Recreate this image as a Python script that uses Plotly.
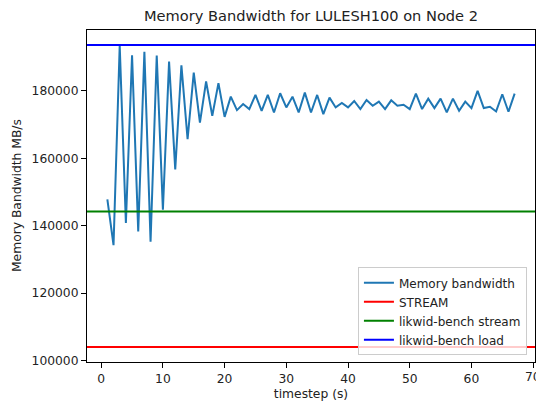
import plotly.graph_objects as go

timesteps = list(range(1, 68))
bandwidth = [
    147800, 134200, 193500, 140800, 190600, 138300, 191600, 135200, 190500, 144700,
    188700, 156700, 187600, 165700, 185400, 170600, 182800, 172600, 182300, 172300,
    178300, 174300, 176100, 174600, 178800, 174100, 178800, 173600, 179300, 175100,
    178300, 173600, 179500, 173600, 178800, 173100, 178000, 175100, 176400, 175100,
    177000, 174600, 177300, 175600, 176800, 174600, 177200, 175600, 175900, 174600,
    179200, 174600, 177700, 174900, 177700, 173600, 177700, 174100, 176800, 174900,
    180000, 174900, 175300, 173900, 179000, 173800, 179200,
]
ref_names = ["STREAM", "likwid-bench stream", "likwid-bench load"]
ref_values = [104000, 144200, 193600]
ref_colors = ["red", "green", "blue"]
x_ticks = [0, 10, 20, 30, 40, 50, 60, 70]
y_ticks = [100000, 120000, 140000, 160000, 180000]

font_family = "DejaVu Sans, sans-serif"

fig = go.Figure()
fig.add_trace(go.Scatter(
    x=timesteps, y=bandwidth, mode="lines", name="Memory bandwidth",
    line=dict(color="#1f77b4", width=2), legendrank=1,
))

for i, (nm, val, col) in enumerate(zip(ref_names, ref_values, ref_colors)):
    fig.add_shape(
        type="line", xref="paper", x0=0, x1=1, yref="y", y0=val, y1=val,
        line=dict(color=col, width=2), name=nm, showlegend=True, legendrank=2 + i,
    )

xmin, xmax = min(timesteps), max(timesteps)
xpad = 0.05 * (xmax - xmin)
lo = min(ref_values + bandwidth)
hi = max(ref_values + bandwidth)
ypad = 0.05 * (hi - lo)

axis_common = dict(
    showline=True, mirror=True, linecolor="black", linewidth=1,
    ticks="outside", ticklen=5, tickwidth=1, tickcolor="black",
    showgrid=False, zeroline=False,
    tickfont=dict(family=font_family, size=12.3, color="#222"),
)

shown_x = [t for t in x_ticks if t < xmax + xpad - 1]
fig.update_layout(
    width=536, height=403,
    margin=dict(l=87, r=1, t=30, b=41),
    paper_bgcolor="white", plot_bgcolor="white",
    font=dict(family=font_family, color="#222"),
    title=dict(text="Memory Bandwidth for LULESH100 on Node 2", x=(87 + 535) / 2 / 536,
               xanchor="center", y=1 - 16 / 403, yanchor="middle",
               font=dict(size=14.6, family=font_family, color="#222")),
    xaxis=dict(range=[xmin - xpad, xmax + xpad], tickvals=x_ticks,
               ticktext=[str(t) if t in shown_x else "" for t in x_ticks],
               title=dict(text="timestep (s)", font=dict(size=12.3, family=font_family), standoff=4),
               **axis_common),
    yaxis=dict(range=[lo - ypad, hi + ypad], tickvals=y_ticks,
               ticktext=[str(t) for t in y_ticks],
               **axis_common),
    legend=dict(x=0.982, xanchor="right", y=0.02, yanchor="bottom",
                bgcolor="rgba(255,255,255,0.8)", bordercolor="#ccc", borderwidth=1,
                font=dict(size=12, family=font_family, color="#222"),
                itemwidth=30, tracegroupgap=0),
    showlegend=True,
)

for t in x_ticks:
    if t not in shown_x:
        fig.add_annotation(
            text=str(t), xref="x", yref="paper", x=t, y=0, yanchor="top", xanchor="center",
            yshift=-6, showarrow=False,
            font=dict(size=12.3, family=font_family, color="#222"),
        )

fig.add_annotation(
    text="Memory Bandwidth MB/s", xref="paper", yref="paper",
    x=-(87 - 17) / 448, y=0.5, xanchor="center", yanchor="middle",
    textangle=-90, showarrow=False,
    font=dict(size=12.3, family=font_family, color="#222"),
)

fig.write_html("out.html")
